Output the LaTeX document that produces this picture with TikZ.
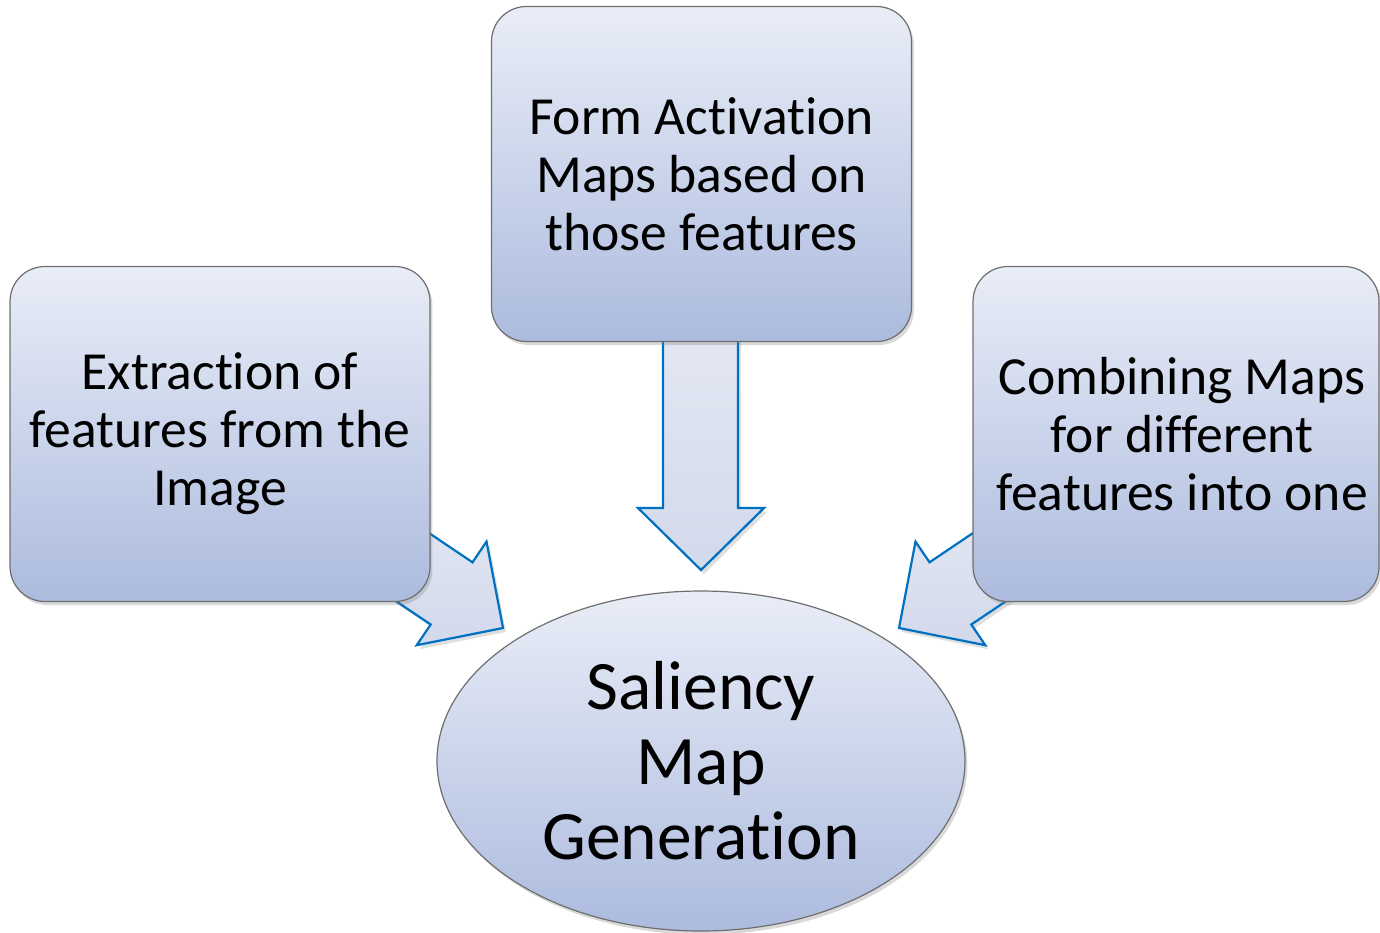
\documentclass[tikz,border=0pt]{standalone}
\usepackage{fontspec}
\setmainfont{Carlito}[Ligatures={NoCommon,NoRare,NoContextual}]
\usetikzlibrary{shapes.geometric,shadows}
\definecolor{boxtop}{RGB}{233,237,247}
\definecolor{boxbot}{RGB}{172,187,222}
\definecolor{arrtop}{RGB}{228,232,243}
\definecolor{arrbot}{RGB}{210,217,235}
\definecolor{arrline}{RGB}{0,112,192}
\definecolor{edge}{RGB}{110,110,110}
\tikzset{
  stepbox/.style={draw=edge, line width=0.6pt, rounded corners=17.5pt,
    top color=boxtop, bottom color=boxbot, minimum width=210pt,
    minimum height=167.5pt, inner sep=0pt, align=center,
    font=\fontsize{26.8}{29}\selectfont,
    drop shadow={opacity=0.3, shadow xshift=1.2pt, shadow yshift=-1.8pt}},
  goal/.style={ellipse, draw=edge, line width=0.6pt,
    top color=boxtop, bottom color=boxbot, minimum width=264pt,
    minimum height=170pt, inner sep=0pt, align=center,
    font=\fontsize{34.7}{37.5}\selectfont,
    drop shadow={opacity=0.3, shadow xshift=1.2pt, shadow yshift=-1.8pt}},
  blockarrow/.style={draw=arrline, line width=1.1pt, line join=miter,
    top color=arrtop, bottom color=arrbot,
    drop shadow={opacity=0.25, shadow xshift=1.5pt, shadow yshift=-2pt}}
}
\begin{document}
\begin{tikzpicture}[x=0.5pt,y=-0.5pt]
\useasboundingbox (0,0) rectangle (1380,932);
% block arrows (drawn first, tails hidden below the boxes)
\draw[blockarrow] (373,495.3) -- (472.5,562.3) -- (486.5,541.6) -- (503,628)
  -- (416.7,645.2) -- (430.7,624.5) -- (331,557.5) -- cycle;
\draw[blockarrow] (1029,495.3) -- (929.5,562.3) -- (915.5,541.6) -- (899,628)
  -- (985.3,645.2) -- (971.3,624.5) -- (1071,557.5) -- cycle;
\draw[blockarrow] (663,320) -- (663,508) -- (638,508) -- (701,570)
  -- (764,508) -- (738,508) -- (738,320) -- cycle;
% boxes
\node[stepbox] (extract) at (220,434) {Extraction of\\features from the\\Image};
\node[stepbox] (form) at (701.5,174) {Form Activation\\Maps based on\\those features};
\node[stepbox, minimum width=203pt] (combine) at (1176,434) {\hspace*{6pt}Combining Maps\\\hspace*{6pt}for different\\\hspace*{6pt}features into one};
\node[goal] (saliency) at (701,761) {Saliency\\Map\\Generation};
\end{tikzpicture}
\end{document}
